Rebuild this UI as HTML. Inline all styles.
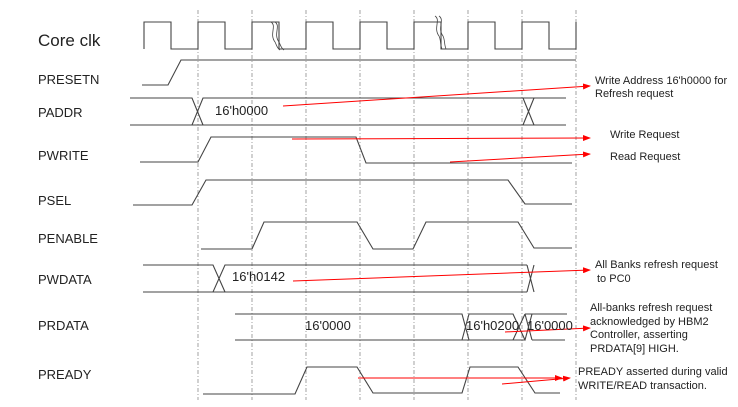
<!DOCTYPE html>
<html><head><style>
body{margin:0;background:#fff;}
svg{display:block;font-family:"Liberation Sans",sans-serif;}
</style></head><body>
<svg width="738" height="407" viewBox="0 0 738 407" xmlns="http://www.w3.org/2000/svg">
<defs><marker id="a" markerWidth="8" markerHeight="6" refX="7" refY="3" orient="auto" markerUnits="userSpaceOnUse"><path d="M0,0L8,3L0,6z" fill="#f00"/></marker></defs>
<g stroke="#666" stroke-width="0.6" stroke-dasharray="4,2,1,2">
<line x1="198" y1="10" x2="198" y2="400"/><line x1="252" y1="10" x2="252" y2="400"/>
<line x1="306" y1="10" x2="306" y2="400"/><line x1="360" y1="10" x2="360" y2="400"/>
<line x1="414" y1="10" x2="414" y2="400"/><line x1="468" y1="10" x2="468" y2="400"/>
<line x1="522" y1="10" x2="522" y2="400"/><line x1="576" y1="10" x2="576" y2="400"/>
</g>
<g fill="none" stroke="#444" stroke-width="1.1">
<path d="M144,49V22H171V49H198V22H225V49H252V22H279V49H306V22H333V49H360V22H387V49H414V22H441V49H468V22H495V49H522V22H549V49H576V22"/>
<path d="M271,22c6,4,-2,12,4,20c2,4,2,6,5,8M275,22c6,4,-2,12,4,20c2,4,2,6,5,8M435,16c6,4,-2,12,4,20c2,4,1,8,3,13M439,16c6,4,-2,12,4,20c2,4,1,8,3,13" stroke-width="0.8"/>
<path d="M142,85H168L181,60H576"/>
<path d="M130,98H192L203,125H130M130,125H192L203,98H566M203,125H566M523,98L534,125M534,98L523,125"/>
<path d="M140,162H198L211,137H356L366,163H572"/>
<path d="M133,205H192L206,180H508L525,204H572"/>
<path d="M201,249H252L264,222H357L373,249H413L426,222H518L534,248H572"/>
<path d="M143,265H213L225,292H143M143,292H213L225,265H527M225,292H527M527,265L534,292M534,265L527,292"/>
<path d="M235,314H462L469,340H235M462,340L469,314H513L525,340H469M513,314L525,340M525,314H567M525,340L532,314M513,340L525,314M532,340H565M525,314L532,340"/>
<path d="M203,394H295L307,367H357L373,393H462L470,367H518L535,393H560"/>
</g>
<g stroke="#f00" stroke-width="1" marker-end="url(#a)">
<line x1="283" y1="106" x2="590" y2="86"/>
<line x1="292" y1="139" x2="590" y2="138"/>
<line x1="450" y1="162" x2="590" y2="154"/>
<line x1="293" y1="281" x2="590" y2="270"/>
<line x1="505" y1="332" x2="590" y2="328"/>
<line x1="358" y1="378" x2="562" y2="378"/>
<line x1="502" y1="384" x2="570" y2="378"/>
</g>
<g fill="#222" font-size="13">
<text x="38" y="46" font-size="17">Core clk</text>
<text x="38" y="84">PRESETN</text>
<text x="38" y="117">PADDR</text>
<text x="38" y="160">PWRITE</text>
<text x="38" y="205">PSEL</text>
<text x="38" y="243">PENABLE</text>
<text x="38" y="284">PWDATA</text>
<text x="38" y="330">PRDATA</text>
<text x="38" y="379">PREADY</text>
<text x="215" y="115">16'h0000</text>
<text x="232" y="281">16'h0142</text>
<text x="305" y="330">16'0000</text>
<text x="466" y="330">16'h0200</text>
<text x="527" y="330">16'0000</text>
</g>
<g fill="#222" font-size="11">
<text x="595" y="84">Write Address 16'h0000 for</text>
<text x="595" y="97">Refresh request</text>
<text x="610" y="138">Write Request</text>
<text x="610" y="160">Read Request</text>
<text x="595" y="268">All Banks refresh request</text>
<text x="597" y="282">to PC0</text>
<text x="590" y="311">All-banks refresh request</text>
<text x="590" y="325">acknowledged by HBM2</text>
<text x="590" y="338">Controller, asserting</text>
<text x="590" y="352">PRDATA[9] HIGH.</text>
<text x="578" y="375">PREADY asserted during valid</text>
<text x="578" y="389">WRITE/READ transaction.</text>
</g>
</svg>
</body></html>
